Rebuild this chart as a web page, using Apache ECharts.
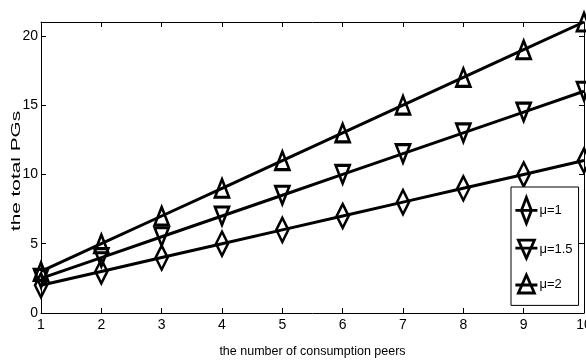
<!DOCTYPE html>
<html>
<head>
<meta charset="utf-8">
<script src="https://cdn.jsdelivr.net/npm/echarts@6/dist/echarts.min.js"></script>
<style>
html, body { margin: 0; padding: 0; background: #fff; }
#chart { width: 586px; height: 362px; }
</style>
</head>
<body>
<div id="chart"></div>
<script>
const peers = [1, 2, 3, 4, 5, 6, 7, 8, 9, 10];
const mu1 = [2, 3, 4, 5, 6, 7, 8, 9, 10, 11];
const mu15 = [2.5, 4, 5.5, 7, 8.5, 10, 11.5, 13, 14.5, 16];
const mu2 = [3, 5, 7, 9, 11, 13, 15, 17, 19, 21];
const seriesNames = ['μ=1', 'μ=1.5', 'μ=2'];
const xTitle = 'the number of consumption peers';
const yTitle = 'the total PGs';

const sans = "'Liberation Sans', Arial, sans-serif";

// legend icons: a short line with the hollow marker on it
const diamondIcon = 'path://M0 13 L22 13 M11 0 L16 13 L11 26 L6 13 Z';
const downIcon = 'path://M0 8 L22 8 M3 0 L19 0 L11 18 Z';
const upIcon = 'path://M0 10 L22 10 M11 0 L19 18 L3 18 Z';

const chart = echarts.init(document.getElementById('chart'), null, { renderer: 'canvas' });

function makeSeries(name, values, symbol, size, rotate) {
    return {
        name: name,
        type: 'line',
        data: peers.map((x, i) => [x, values[i]]),
        symbol: symbol,
        symbolSize: size,
        symbolRotate: rotate,
        showAllSymbol: true,
        clip: false,
        lineStyle: { color: '#000', width: 3 },
        itemStyle: { color: 'rgba(0,0,0,0)', borderColor: '#000', borderWidth: 2.8 },
        emphasis: { disabled: true },
        animation: false
    };
}

const frameAxis = {
    axisLine: { show: true, onZero: false, lineStyle: { color: '#000', width: 1 } },
    axisTick: { show: true, inside: true, length: 5, lineStyle: { color: '#000' } },
    axisLabel: { show: false },
    splitLine: { show: false }
};

const option = {
    backgroundColor: '#fff',
    animation: false,
    grid: { left: 41, right: 2, top: 22, bottom: 49, containLabel: false, outerBoundsMode: 'none' },
    xAxis: [
        {
            type: 'value', min: 1, max: 10, interval: 1, position: 'bottom',
            name: xTitle, nameLocation: 'middle', nameGap: 32,
            nameTextStyle: { fontFamily: sans, fontSize: 12.5, color: '#000' },
            axisLine: { onZero: false, lineStyle: { color: '#000', width: 1 } },
            axisTick: { inside: true, length: 5, lineStyle: { color: '#000' } },
            axisLabel: { fontFamily: sans, fontSize: 14, color: '#000', margin: 5 },
            splitLine: { show: false }
        },
        Object.assign({ type: 'value', min: 1, max: 10, interval: 1, position: 'top' }, frameAxis)
    ],
    yAxis: [
        {
            type: 'value', min: 0, max: 21, interval: 5, position: 'left',
            axisLine: { show: true, onZero: false, lineStyle: { color: '#000', width: 1 } },
            axisTick: { show: true, inside: true, length: 5, lineStyle: { color: '#000' } },
            axisLabel: {
                fontFamily: sans, fontSize: 14, color: '#000', margin: 3,
                formatter: v => (v % 5 === 0 ? String(v) : '')
            },
            splitLine: { show: false }
        },
        Object.assign({ type: 'value', min: 0, max: 21, interval: 5, position: 'right' }, frameAxis)
    ],
    legend: {
        orient: 'vertical',
        left: 511,
        top: 187,
        padding: [9, 6, 11, 3],
        itemGap: 14,
        itemWidth: 22,
        itemHeight: 26,
        symbolKeepAspect: true,
        backgroundColor: '#fff',
        borderColor: '#000',
        borderWidth: 1,
        borderRadius: 0,
        selectedMode: false,
        itemStyle: { color: 'rgba(0,0,0,0)', borderColor: '#000', borderWidth: 2.8 },
        textStyle: { fontFamily: sans, fontSize: 13, color: '#000', padding: [0, 0, 0, -3] },
        data: [
            { name: seriesNames[0], icon: diamondIcon },
            { name: seriesNames[1], icon: downIcon },
            { name: seriesNames[2], icon: upIcon }
        ]
    },
    graphic: [
        {
            type: 'text',
            x: 16,
            y: 171,
            rotation: Math.PI / 2,
            scaleX: 1.6,
            silent: true,
            style: {
                text: yTitle,
                font: "13px 'Liberation Sans', Arial, sans-serif",
                fill: '#000',
                align: 'center',
                verticalAlign: 'middle'
            }
        }
    ],
    series: [
        makeSeries(seriesNames[0], mu1, 'diamond', [12, 24], 0),
        makeSeries(seriesNames[1], mu15, 'triangle', [14, 18], 180),
        makeSeries(seriesNames[2], mu2, 'triangle', [14, 18], 0)
    ]
};

chart.setOption(option);
</script>
</body>
</html>
